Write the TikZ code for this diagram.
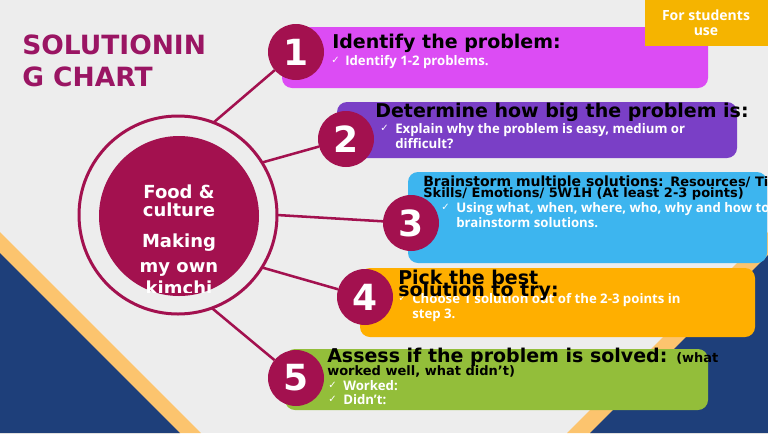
\documentclass[tikz,border=0pt]{standalone}
\usepackage{fontspec}
\setmainfont{DejaVu Sans}
\newfontfamily\bulfont{Open Sans}
\newcommand\fpx[1]{\fontsize{\dimexpr #1pt*3/4\relax}{\dimexpr #1pt*3/4\relax}\selectfont}
\definecolor{bgc}{HTML}{EDEDED}
\definecolor{navy}{HTML}{1E3F7A}
\definecolor{stripe}{HTML}{FCC46E}
\definecolor{ttlc}{HTML}{9A1563}
\definecolor{mg}{HTML}{A3114F}
\definecolor{cone}{HTML}{DC4CF4}
\definecolor{ctwo}{HTML}{7A3FC6}
\definecolor{cthree}{HTML}{3DB5EF}
\definecolor{cfour}{HTML}{FFAF00}
\definecolor{cfive}{HTML}{93BE3A}
\definecolor{cyel}{HTML}{F5B400}
\begin{document}
\begin{tikzpicture}[x=0.75pt,y=-0.75pt,
  boxn/.style={rectangle, rounded corners=7.5pt, inner sep=0, outer sep=0},
  numc/.style={circle, fill=mg, minimum size=42pt, inner sep=0, outer sep=0, text=white, font=\fpx{36}\bfseries},
  ttl/.style={anchor=base west, inner sep=0, text=black, font=\fpx{19}\bfseries},
  sttl/.style={anchor=base west, inner sep=0, text=black, font=\fpx{13}\bfseries},
  bul/.style={anchor=base west, inner sep=0, text=white, font=\bulfont\fpx{13.2}\bfseries},
  chk/.style={anchor=base west, inner sep=0, text=white, font=\fpx{10}},
  ctr/.style={anchor=base, inner sep=0, text=white, font=\fpx{18}\bfseries},
  conn/.style={draw=mg, line width=1.9pt}]
\clip (0,0) rectangle (768,433);
\fill[bgc] (0,0) rectangle (768,433);
% corner stripes
\fill[stripe] (0,232) -- (201,433) -- (0,433) -- cycle;
\fill[navy] (0,253) -- (180,433) -- (0,433) -- cycle;
\fill[stripe] (567,433) -- (768,232) -- (768,433) -- cycle;
\fill[navy] (590,433) -- (768,255) -- (768,433) -- cycle;
% boxes
\node[boxn, fill=cone, minimum width=319.5pt, minimum height=45.75pt] (b1) at (495,57.5) {};
\node[boxn, fill=ctwo, minimum width=300pt, minimum height=42pt] (b2) at (537,130) {};
\node[boxn, fill=cthree, minimum width=269.25pt, minimum height=68.25pt] (b3) at (587.5,217.5) {};
\node[boxn, fill=cfour, minimum width=296.25pt, minimum height=51.75pt] (b4) at (557.5,302.5) {};
\node[boxn, fill=cfive, minimum width=317.25pt, minimum height=45.75pt] (b5) at (496.5,379.5) {};
% for students
\node[rectangle, fill=cyel, minimum width=92.25pt, minimum height=34.5pt, inner sep=0] (fs) at (706.5,23) {};
\node[anchor=base, inner sep=0, text=white, font=\bulfont\fpx{14}\bfseries] (fsa) at (706,20) {For students};
\node[anchor=base, inner sep=0, text=white, font=\bulfont\fpx{14}\bfseries] (fsb) at (706,35) {use};
% title
\node[anchor=base west, inner sep=0, text=ttlc, font=\fpx{26.5}\bfseries] (tla) at (22,54) {SOLUTIONIN};
\node[anchor=base west, inner sep=0, text=ttlc, font=\fpx{26.5}\bfseries] (tlb) at (22,86) {G CHART};
% central circle
\node[circle, draw=mg, line width=2.25pt, minimum size=148.5pt, inner sep=0, outer sep=0] (ring) at (178,215) {};
\node[circle, fill=mg, minimum size=120pt, inner sep=0, outer sep=0] (core) at (179,216) {};
\node[ctr] (ca) at (179,198) {Food \&};
\node[ctr] (cb) at (179,216) {culture};
\node[ctr] (cc) at (179,247) {Making};
\node[ctr] (cd) at (179,272) {my own};
\begin{scope}
\clip (80,100) rectangle (280,292.5);
\node[ctr] (ce) at (179,294) {kimchi};
\end{scope}
% number circles
\node[numc] (n1) at (296,52) {1};
\node[numc] (n2) at (346,139) {2};
\node[numc] (n3) at (411,223) {3};
\node[numc] (n4) at (365,297) {4};
\node[numc] (n5) at (296,378) {5};
% connectors
\draw[conn] (ring.69) -- (n1);
\draw[conn] (ring.32) -- (n2);
\draw[conn] (ring.0) -- (n3);
\draw[conn] (ring.-32) -- (n4);
\draw[conn] (ring.-70) -- (n5);
% box 1 text
\node[ttl] (t1) at (332,48) {Identify the problem:};
\node[chk] (k1) at (331,63) {✓};
\node[bul] (u1) at (345,65) {Identify 1-2 problems.};
% box 2 text
\node[ttl] (t2) at (375,117) {Determine how big the problem is:};
\node[chk] (k2) at (380,131) {✓};
\node[bul] (u2a) at (395,133) {Explain why the problem is easy, medium or};
\node[bul] (u2b) at (395,148) {difficult?};
% box 3 text
\node[anchor=base west, inner sep=0, text=black, font=\fpx{14}\bfseries] (t3a) at (423,186) {Brainstorm multiple solutions: {\fpx{13}Resources/ Time/}};
\node[sttl] (t3b) at (423,197) {Skills/ Emotions/ 5W1H (At least 2-3 points)};
\node[chk] (k3) at (441,210) {✓};
\node[bul] (u3a) at (456,212) {Using what, when, where, who, why and how to};
\node[bul] (u3b) at (456,227) {brainstorm solutions.};
% box 4 text
\node[bul] (u4a) at (412,303) {Choose 1 solution out of the 2-3 points in};
\node[bul] (u4b) at (412,318) {step 3.};
\node[chk] (k4) at (398,301) {✓};
\node[ttl] (t4a) at (398,284) {Pick the best};
\node[ttl] (t4b) at (398,296) {solution to try:};
% box 5 text
\node[ttl] (t5a) at (327,362) {Assess if the problem is solved: {\fpx{13}(what}};
\node[sttl] (t5b) at (327,375) {worked well, what didn’t)};
\node[chk] (k5a) at (328,388) {✓};
\node[bul] (u5a) at (343,390) {Worked:};
\node[chk] (k5b) at (328,402) {✓};
\node[bul] (u5b) at (343,404) {Didn’t:};
\end{tikzpicture}
\end{document}
